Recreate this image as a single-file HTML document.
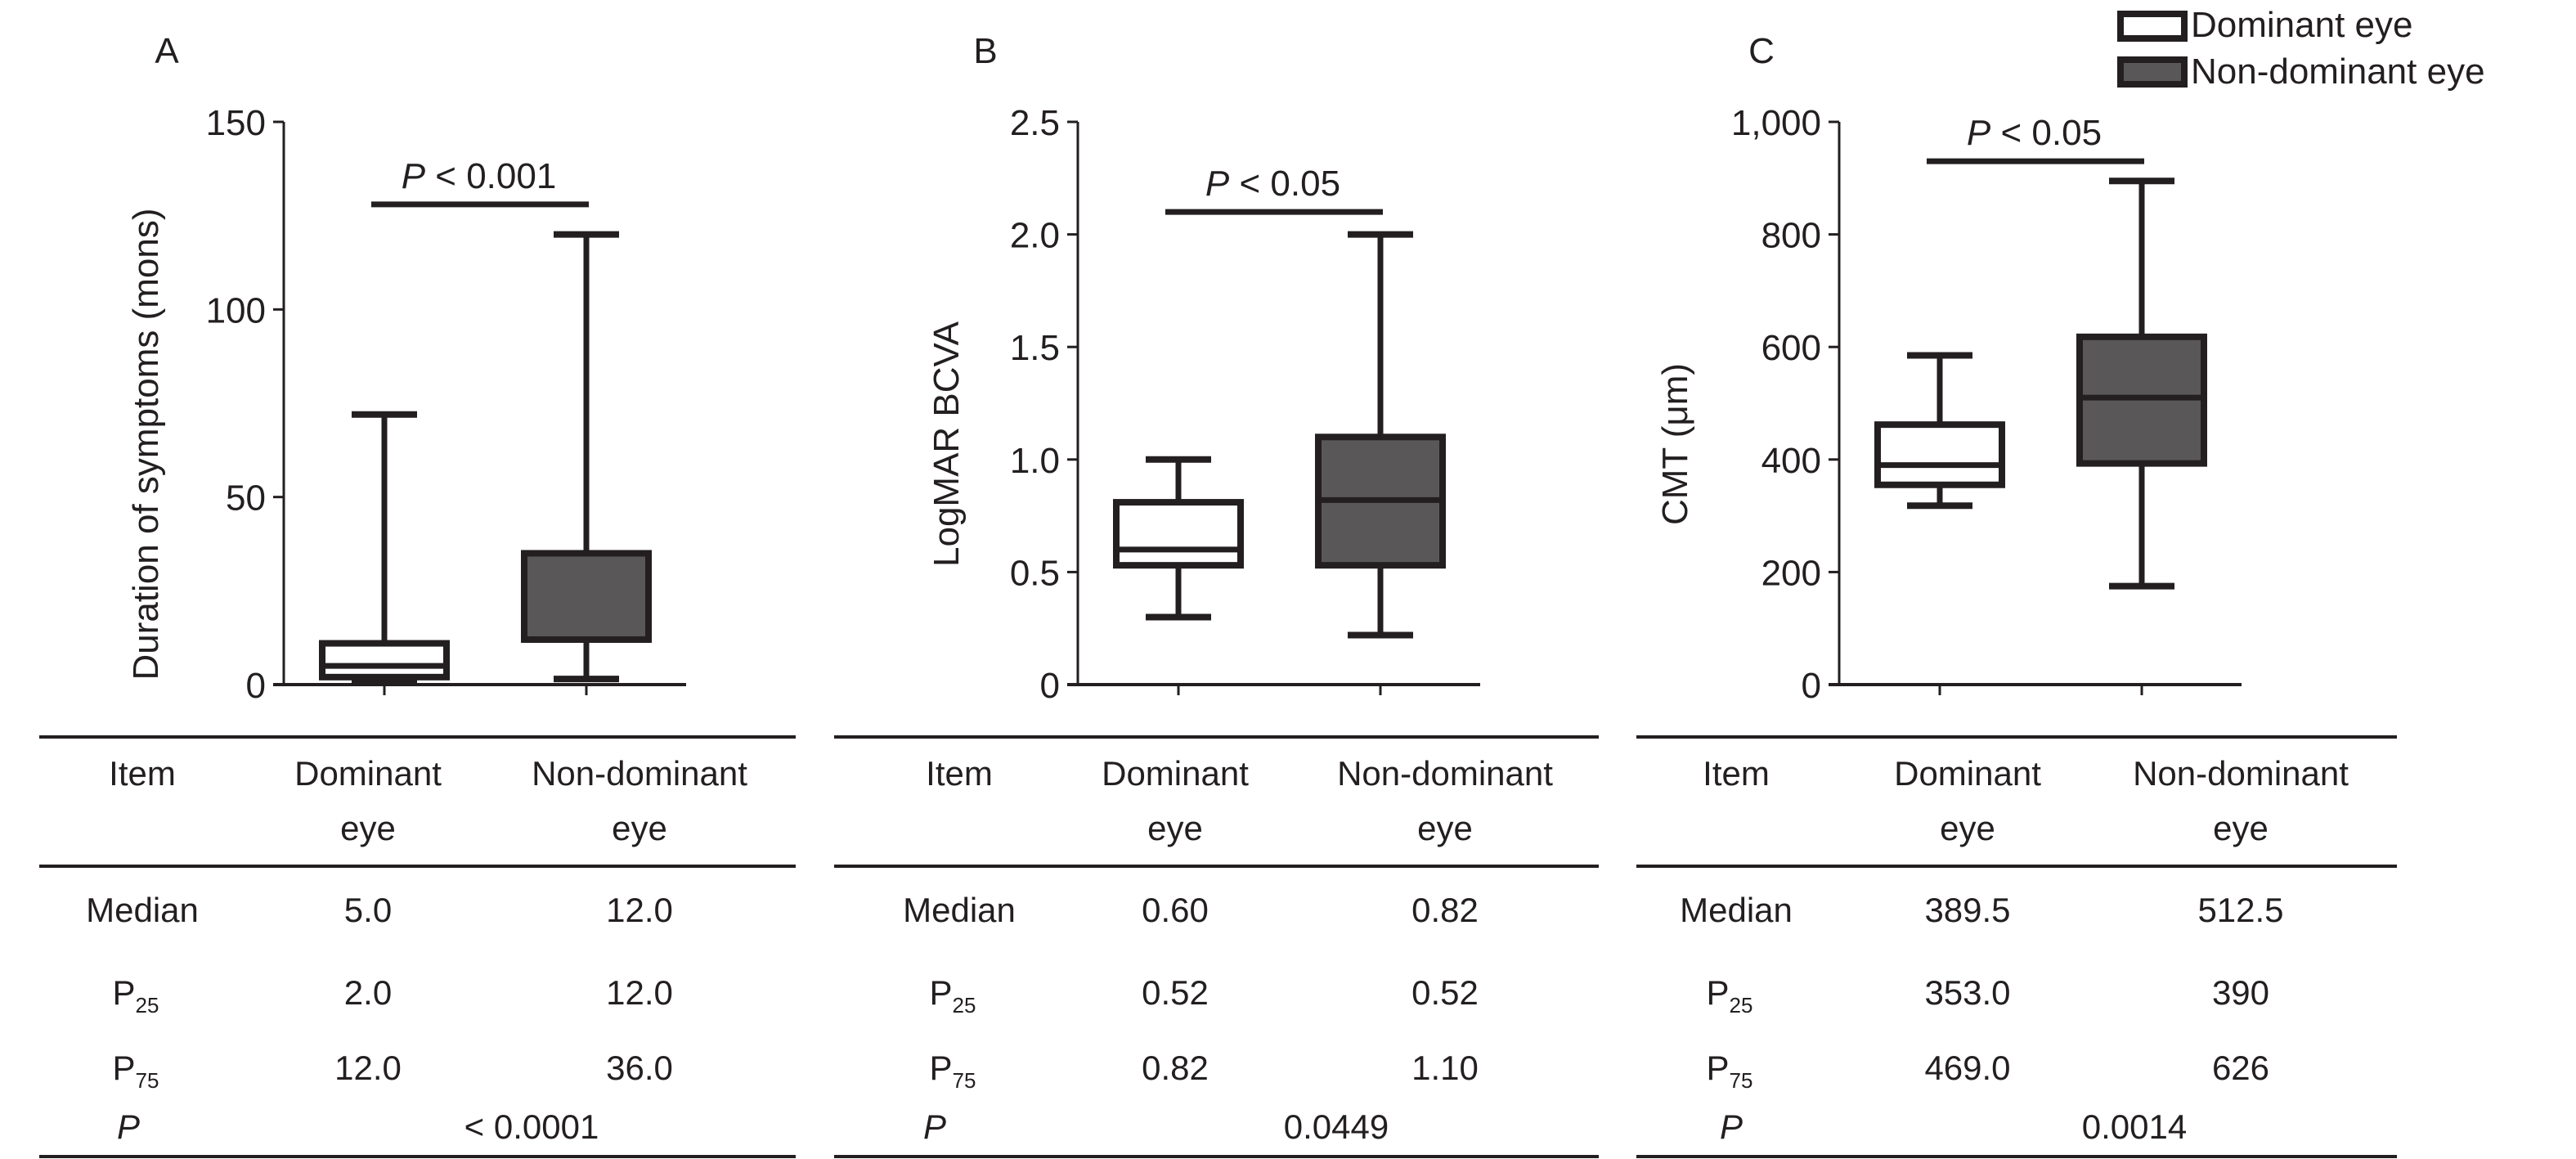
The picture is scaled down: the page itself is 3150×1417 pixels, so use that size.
<!DOCTYPE html>
<html><head><meta charset="utf-8"><style>
html,body{margin:0;padding:0;background:#fff;}
svg{display:block;font-family:"Liberation Sans",sans-serif;fill:#231f20;}
</style></head><body>
<svg id="chart" width="3150" height="1417" viewBox="0 0 3150 1417" xmlns="http://www.w3.org/2000/svg">
<g id="legend">
<rect x="2593" y="17" width="78" height="30" fill="#fff" stroke="#231f20" stroke-width="8"/>
<text x="2679" y="45" font-size="44">Dominant eye</text>
<rect x="2593" y="73" width="78" height="30" fill="#595758" stroke="#231f20" stroke-width="8"/>
<text x="2679" y="102" font-size="44">Non-dominant eye</text>
</g>
</svg>
<script>
const panelLetters = ["A","B","C"];
const yTitles = ["Duration of symptoms (mons)","LogMAR BCVA","CMT (μm)"];
const yMaxes = [150, 2.5, 1000];
const tickA = [0,50,100,150];
const tickB = [0,0.5,1.0,1.5,2.0,2.5];
const tickC = [0,200,400,600,800,1000];
const tickLabelsA = ["0","50","100","150"];
const tickLabelsB = ["0","0.5","1.0","1.5","2.0","2.5"];
const tickLabelsC = ["0","200","400","600","800","1,000"];
// [min, q1, median, q3, max]
const domA = [1, 2, 5, 11, 72];
const nonA = [1.5, 12, 12, 35, 120];
const domB = [0.30, 0.53, 0.60, 0.81, 1.00];
const nonB = [0.22, 0.53, 0.82, 1.10, 2.00];
const domC = [318, 355, 390, 462, 585];
const nonC = [175, 393, 510, 618, 895];
const sigValues = [128, 2.1, 930];
const sigLabels = ["< 0.001","< 0.05","< 0.05"];
const medRowA = ["5.0","12.0"], p25RowA = ["2.0","12.0"], p75RowA = ["12.0","36.0"], pValA = "< 0.0001";
const medRowB = ["0.60","0.82"], p25RowB = ["0.52","0.52"], p75RowB = ["0.82","1.10"], pValB = "0.0449";
const medRowC = ["389.5","512.5"], p25RowC = ["353.0","390"], p75RowC = ["469.0","626"], pValC = "0.0014";

const NS="http://www.w3.org/2000/svg";
const svg=document.getElementById('chart');
const INK="#231f20";
function mk(tag,attrs,parent){const e=document.createElementNS(NS,tag);for(const k in attrs)e.setAttribute(k,attrs[k]);(parent||svg).appendChild(e);return e;}
const panels=[
 {ax:347, tl:48, tr:973, ticks:tickA, labels:tickLabelsA, dom:domA, non:nonA, med:medRowA,p25:p25RowA,p75:p75RowA,pv:pValA, letterX:204, titleX:178, cols:[174,450,782], pLab:157, pvX:650},
 {ax:1318, tl:1020, tr:1955, ticks:tickB, labels:tickLabelsB, dom:domB, non:nonB, med:medRowB,p25:p25RowB,p75:p75RowB,pv:pValB, letterX:1205, titleX:1157, cols:[1173,1437,1767], pLab:1143, pvX:1634},
 {ax:2249, tl:2001, tr:2931, ticks:tickC, labels:tickLabelsC, dom:domC, non:nonC, med:medRowC,p25:p25RowC,p75:p75RowC,pv:pValC, letterX:2154, titleX:2048, cols:[2123,2406,2740], pLab:2117, pvX:2610}
];
const Y0=837, Y1=149;
panels.forEach((p,i)=>{
  const g=mk('g',{});
  
  
  const ys=v=>Y0-(v/yMaxes[i])*(Y0-Y1);
  const t=mk('text',{x:p.letterX,y:77,'font-size':44,'text-anchor':'middle'},g);t.textContent=panelLetters[i];
  
  
  // axes
  const ya=mk('line',{x1:p.ax,y1:Y1,x2:p.ax,y2:Y0,stroke:INK,'stroke-width':3},g);
  
  
  const xa=mk('line',{x1:p.ax-13,y1:Y0,x2:p.ax+492,y2:Y0,stroke:INK,'stroke-width':4},g);
  
  
  const cx=[p.ax+123,p.ax+370];
  cx.forEach(x=>{const tk=mk('line',{x1:x,y1:Y0,x2:x,y2:Y0+13,stroke:INK,'stroke-width':3},g);
    
    });
  p.ticks.forEach((v,k)=>{
    const y=ys(v);
    const tk=mk('line',{x1:p.ax-13,y1:y,x2:p.ax,y2:y,stroke:INK,'stroke-width':3},g);
    
    
    const tl=mk('text',{x:p.ax-22,y:y+16,'font-size':44,'text-anchor':'end'},g);tl.textContent=p.labels[k];
    
    
  });
  const yt=mk('text',{x:0,y:0,'font-size':44,'text-anchor':'middle',transform:`translate(${p.titleX+15},${(Y0+Y1)/2+50}) rotate(-90)`},g);
  yt.textContent=yTitles[i];
  
  
  // boxes
  [[p.dom,'#ffffff','dominant'],[p.non,'#595758','non-dominant']].forEach(([d,fill,nm],j)=>{
    const x=cx[j];
    const bg=mk('g',{},g);
    
    
    mk('line',{x1:x,y1:ys(d[4]),x2:x,y2:ys(d[0]),stroke:INK,'stroke-width':7},bg);
    mk('line',{x1:x-40,y1:ys(d[4]),x2:x+40,y2:ys(d[4]),stroke:INK,'stroke-width':8},bg);
    mk('line',{x1:x-40,y1:ys(d[0]),x2:x+40,y2:ys(d[0]),stroke:INK,'stroke-width':8},bg);
    mk('rect',{x:x-76,y:ys(d[3]),width:152,height:ys(d[1])-ys(d[3]),fill:fill,stroke:INK,'stroke-width':8},bg);
    mk('line',{x1:x-76,y1:ys(d[2]),x2:x+76,y2:ys(d[2]),stroke:INK,'stroke-width':7},bg);
  });
  // significance
  const sy=ys(sigValues[i]);
  const sb=mk('line',{x1:cx[0]-16,y1:sy,x2:cx[1]+3,y2:sy,stroke:INK,'stroke-width':7},g);
  
  
  const st=mk('text',{x:(cx[0]+cx[1])/2-8,y:sy-20,'font-size':44,'text-anchor':'middle'},g);
  st.innerHTML='<tspan font-style="italic">P</tspan> '+sigLabels[i];
  
  
  // table
  const tg=mk('g',{},g);
  
  
  [901,1059,1414].forEach(y=>mk('line',{x1:p.tl,y1:y,x2:p.tr,y2:y,stroke:INK,'stroke-width':4},tg));
  const txt=(x,y,s,anchor)=>{const e=mk('text',{x:x,y:y,'font-size':42,'text-anchor':anchor||'middle'},tg);e.innerHTML=s;return e;};
  txt(p.cols[0],960,'Item');
  txt(p.cols[1],960,'Dominant'); txt(p.cols[1],1027,'eye');
  txt(p.cols[2],960,'Non-dominant'); txt(p.cols[2],1027,'eye');
  txt(p.cols[0],1127,'Median');
  txt(p.cols[1],1127,p.med[0]); txt(p.cols[2],1127,p.med[1]);
  txt(p.cols[0]-8,1228,'P<tspan font-size="26" dy="10">25</tspan>');
  txt(p.cols[1],1228,p.p25[0]); txt(p.cols[2],1228,p.p25[1]);
  txt(p.cols[0]-8,1320,'P<tspan font-size="26" dy="10">75</tspan>');
  txt(p.cols[1],1320,p.p75[0]); txt(p.cols[2],1320,p.p75[1]);
  txt(p.pLab,1392,'<tspan font-style="italic">P</tspan>');
  txt(p.pvX,1392,p.pv);
});
</script>
</body></html>
